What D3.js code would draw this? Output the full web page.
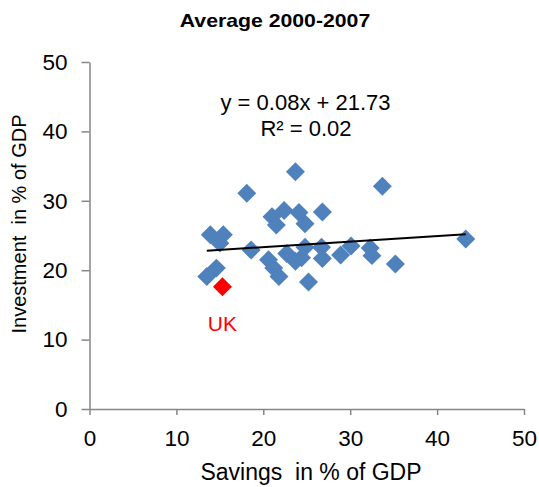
<!DOCTYPE html>
<html>
<head>
<meta charset="utf-8">
<script src="https://cdn.jsdelivr.net/npm/d3@7"></script>
<style>
  body { margin: 0; background: #fff; }
  text { font-family: "Liberation Sans", Arial, sans-serif; fill: #000; }
</style>
</head>
<body>
<div id="chart"></div>
<script>
// savings vs investment, % of GDP, average 2000-2007
const savings = [13.5, 14.6, 13.9, 15.4, 15.0, 18.1, 18.6, 21.0, 22.4, 21.5, 24.1, 24.8, 26.8, 23.7,
  20.6, 21.2, 21.8, 22.7, 23.7, 24.4, 24.8, 25.2, 26.7, 26.8, 28.9, 30.1, 32.3, 32.5, 33.7, 35.2, 43.3]
const investment = [19.1, 20.3, 25.1, 25.1, 23.9, 31.1, 22.9, 27.7, 28.6, 26.5, 28.3, 26.7, 28.4, 34.2,
  21.5, 20.3, 19.1, 22.4, 21.3, 21.8, 23.3, 18.3, 23.3, 21.7, 22.2, 23.5, 23.2, 22.1, 32.1, 20.9, 24.5]
const ukPoint = [15.3, 17.6]
const ukLabel = "UK"

const trendSlope = 0.08
const trendIntercept = 21.73
const trendLabel = "y = 0.08x + 21.73"
const r2Label = "R² = 0.02"

const xTicks = [0, 10, 20, 30, 40, 50]
const yTicks = [0, 10, 20, 30, 40, 50]

const dimensions = {
  width: 539,
  height: 487,
  margin: { top: 62, right: 15, bottom: 78, left: 89.5 }
}
dimensions.boundedWidth = dimensions.width - dimensions.margin.left - dimensions.margin.right
dimensions.boundedHeight = dimensions.height - dimensions.margin.top - dimensions.margin.bottom

const svg = d3.select("#chart").append("svg")
  .attr("width", dimensions.width)
  .attr("height", dimensions.height)

const bounds = svg.append("g")
  .attr("transform", `translate(${dimensions.margin.left},${dimensions.margin.top})`)

const xScale = d3.scaleLinear().domain([0, 50]).range([0, dimensions.boundedWidth])
const yScale = d3.scaleLinear().domain([0, 50]).range([dimensions.boundedHeight, 0])

// axes
const xAxis = bounds.append("g")
  .attr("transform", `translate(0,${dimensions.boundedHeight})`)
  .call(d3.axisBottom(xScale).tickValues(xTicks).tickSize(6).tickPadding(15).tickSizeOuter(0))
const yAxis = bounds.append("g")
  .call(d3.axisLeft(yScale).tickValues(yTicks).tickSize(8).tickPadding(14).tickSizeOuter(0))

;[xAxis, yAxis].forEach(ax => {
  ax.select(".domain").attr("stroke", "#868686").attr("stroke-width", 1.5)
  ax.selectAll(".tick line").attr("stroke", "#868686").attr("stroke-width", 1.5)
  ax.selectAll(".tick text")
    .attr("font-family", "Liberation Sans, Arial, sans-serif")
    .attr("font-size", 22.5)
    .attr("fill", "#000")
})

// diamonds
const diamond = d3.symbol(d3.symbolSquare, 180)
const points = savings.map((s, i) => [s, investment[i]])

bounds.selectAll(".pt")
  .data(points)
  .enter().append("path")
  .attr("class", "pt")
  .attr("d", diamond)
  .attr("transform", d => `translate(${xScale(d[0])},${yScale(d[1])}) rotate(45)`)
  .attr("fill", "#4f81bd")

bounds.append("path")
  .attr("d", diamond)
  .attr("transform", `translate(${xScale(ukPoint[0])},${yScale(ukPoint[1])}) rotate(45)`)
  .attr("fill", "#ff0000")

// trend line over the data range
const xMin = d3.min(savings)
const xMax = d3.max(savings)
bounds.append("line")
  .attr("x1", xScale(xMin))
  .attr("y1", yScale(trendSlope * xMin + trendIntercept))
  .attr("x2", xScale(xMax))
  .attr("y2", yScale(trendSlope * xMax + trendIntercept))
  .attr("stroke", "#000")
  .attr("stroke-width", 2)

// labels
bounds.append("text")
  .attr("x", xScale(ukPoint[0]))
  .attr("y", 331 - dimensions.margin.top)
  .attr("text-anchor", "middle")
  .attr("font-size", 21)
  .style("fill", "#ff0000")
  .text(ukLabel)

svg.append("text")
  .attr("x", 305.5)
  .attr("y", 110)
  .attr("text-anchor", "middle")
  .attr("font-size", 22)
  .text(trendLabel)
svg.append("text")
  .attr("x", 306)
  .attr("y", 136)
  .attr("text-anchor", "middle")
  .attr("font-size", 22)
  .text(r2Label)

// title is a bit wide in the original, stretch it sideways
svg.append("text")
  .attr("transform", "translate(275,26.5) scale(1.18,1)")
  .attr("text-anchor", "middle")
  .attr("font-size", 18)
  .attr("font-weight", "bold")
  .text("Average 2000-2007")

svg.append("text")
  .attr("x", 311)
  .attr("y", 480)
  .attr("text-anchor", "middle")
  .attr("font-size", 23)
  .style("white-space", "pre")
  .text("Savings  in % of GDP")

svg.append("text")
  .attr("transform", `translate(26,224) rotate(-90)`)
  .attr("text-anchor", "middle")
  .attr("font-size", 20)
  .style("white-space", "pre")
  .text("Investment  in % of GDP")
</script>
</body>
</html>
